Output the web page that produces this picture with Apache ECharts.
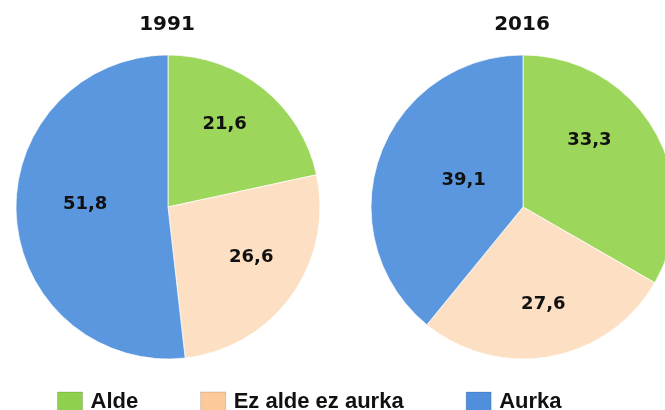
<!DOCTYPE html>
<html>
<head>
<meta charset="utf-8">
<script src="https://cdn.jsdelivr.net/npm/echarts@6/dist/echarts.min.js"></script>
<style>
	html, body { margin: 0; padding: 0; background: #fff; }
	#main { width: 665px; height: 410px; }
</style>
</head>
<body>
<div id="main"></div>
<script>
// datuak
var categories = ['Alde', 'Ez alde ez aurka', 'Aurka'];
var years = ['1991', '2016'];
var values1991 = [21.6, 26.6, 51.8];
var values2016 = [33.3, 27.6, 39.1];

var colors = ['#9cd65a', '#fde0c3', '#5b97de'];
var legendColors = ['#8fd04e', '#fcc99a', '#4f8fdb'];
// Excel "best fit" label nudges (relative to the inside position)
var labelNudge1991 = [[7, -21], [19, 4], [-4, -7]];
var labelNudge2016 = [[-2, -27], [6, 20], [15, 0]];

var centers = [[168, 207], [523, 207]];

function commaFmt(p) {
	return p.value.toFixed(1).replace('.', ',');
}

function buildData(values, nudges) {
	return values.map(function (v, i) {
		return {
			name: categories[i],
			value: v,
			itemStyle: { color: colors[i] },
			label: { offset: nudges[i] }
		};
	});
}

function buildSeries(idx, values, nudges) {
	return {
		name: years[idx],
		type: 'pie',
		center: centers[idx],
		radius: [0, 152],
		startAngle: 90,
		clockwise: true,
		animation: false,
		silent: true,
		itemStyle: {
			borderColor: 'rgba(255,255,255,0.7)',
			borderWidth: 1
		},
		label: {
			show: true,
			position: 'inside',
			formatter: commaFmt,
			color: '#111',
			fontFamily: 'DejaVu Sans',
			fontWeight: 'bold',
			fontSize: 18
		},
		labelLine: { show: false },
		data: buildData(values, nudges)
	};
}

var myChart = echarts.init(document.getElementById('main'), null, { renderer: 'canvas' });

var option = {
	backgroundColor: '#ffffff',
	animation: false,
	title: years.map(function (y, i) {
		return {
			text: y,
			left: centers[i][0] - 6,
			top: 10,
			textAlign: 'center',
			textStyle: {
				fontFamily: 'DejaVu Sans',
				fontWeight: 'bold',
				fontSize: 20,
				color: '#111'
			}
		};
	}),
	legend: {
		left: 52,
		top: 386,
		itemWidth: 25,
		itemHeight: 20,
		itemGap: 62,
		icon: 'rect',
		selectedMode: false,
		data: categories.map(function (c, i) {
			return {
				name: c,
				itemStyle: { color: legendColors[i], borderColor: 'rgba(0,0,0,0.15)', borderWidth: 1 }
			};
		}),
		textStyle: {
			fontFamily: 'Liberation Sans',
			fontWeight: 'bold',
			fontSize: 22,
			color: '#111',
			padding: [0, 0, 0, 3]
		}
	},
	series: [
		buildSeries(0, values1991, labelNudge1991),
		buildSeries(1, values2016, labelNudge2016)
	]
};

myChart.setOption(option);
</script>
</body>
</html>
